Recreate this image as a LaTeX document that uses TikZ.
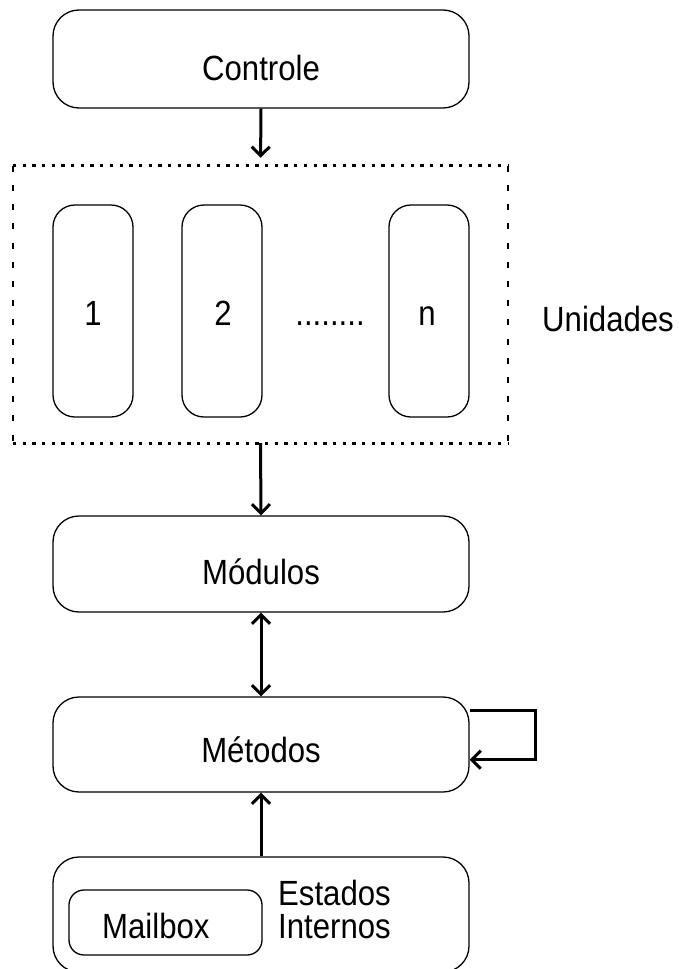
\documentclass[tikz,border=0pt]{standalone}
\usepackage{fontspec}
\setmainfont{Liberation Sans}[FakeStretch=0.89]
\usetikzlibrary{arrows.meta,calc}
\begin{document}
\begin{tikzpicture}[x=1pt,y=-1pt,
  box/.style={draw,line width=1.3pt,rounded corners=26pt,inner sep=0pt},
  unitbox/.style={box,rounded corners=22pt,minimum width=80pt,minimum height=212pt},
  txt/.style={inner sep=0pt,anchor=base,font=\fontsize{35}{41}\selectfont},
  link/.style={line width=3pt,-{Straight Barb[length=9pt,width=18pt,line width=3pt]}},
  dotrow/.style={line width=3.3pt,dash pattern=on 3.3pt off 6.4pt},
  dashcol/.style={line width=2.5pt,dash pattern=on 6pt off 13.2pt},
]
\useasboundingbox (0,0) rectangle (678,969);
\clip (0,0) rectangle (678,969);

% control block
\node[box,minimum width=416pt,minimum height=98pt] (ctrl) at (261,59) {};
\node[txt] (tctrl) at (261,80) {Controle};

% group of units (dotted frame)
\node[inner sep=0pt,minimum width=495pt,minimum height=277pt] (units) at (260.5,304.5) {};
\draw[dotrow] (units.north west) -- (units.north east);
\draw[dotrow] (units.south west) -- (units.south east);
\draw[dashcol] (units.north west) -- (units.south west);
\draw[dashcol] (units.north east) -- (units.south east);

\node[unitbox] (u1) at (93,311) {};
\node[unitbox] (u2) at (222,311) {};
\node[unitbox] (un) at (429,311) {};
\node[txt] (t1) at (93,325) {1};
\node[txt] (t2) at (223,325) {2};
\node[txt] (tdots) at (330,325) {........};
\node[txt] (tn) at (427,325) {n};
\node[txt,anchor=base west] (tunits) at (542,331) {Unidades};

% modules and methods
\node[box,minimum width=416pt,minimum height=96pt] (mod) at (261,564) {};
\node[txt] (tmod) at (261,584) {Módulos};
\node[box,minimum width=416pt,minimum height=95pt] (met) at (261,744.5) {};
\node[txt] (tmet) at (261,762) {Métodos};

% internal states
\node[box,minimum width=416pt,minimum height=115pt] (est) at (261,914.5) {};
\node[box,rounded corners=15pt,minimum width=193pt,minimum height=65pt] (mail) at (165.5,922.5) {};
\node[txt,anchor=base west] (tmail) at (102,938) {Mailbox};
\node[txt,anchor=base west] (test1) at (278,905) {Estados};
\node[txt,anchor=base west] (test2) at (278,938) {Internos};

% connectors
\draw[link,shorten >=8pt] (ctrl.south) -- (units.north);
\draw[link] (units.south) -- (mod.north);
\draw[line width=3pt,{Straight Barb[length=9pt,width=18pt,line width=3pt]}-{Straight Barb[length=9pt,width=18pt,line width=3pt]}] (mod.south) -- (met.north);
\draw[link] (est.north) -- (met.south);
\draw[link] ($(met.north east)+(0,14)$) -- ++(66,0) |- ($(met.south east)+(0,-33)$);
\end{tikzpicture}
\end{document}
